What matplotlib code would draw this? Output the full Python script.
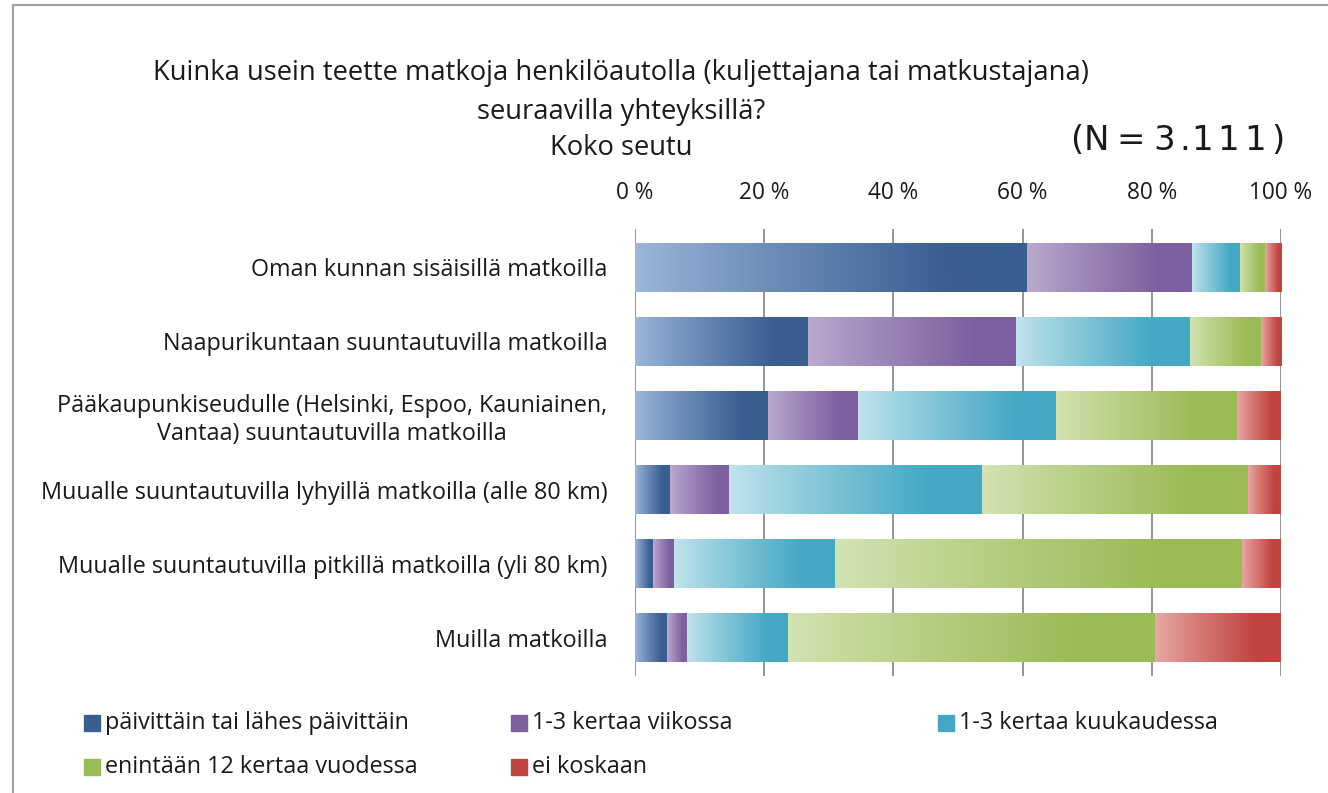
import numpy as np
import matplotlib
matplotlib.use("Agg")
import matplotlib.pyplot as plt
from matplotlib.colors import LinearSegmentedColormap
from matplotlib.patches import Rectangle
from matplotlib.lines import Line2D

plt.rcParams["font.family"] = ["Open Sans", "DejaVu Sans"]

kategoriat = [
    "Oman kunnan sisäisillä matkoilla",
    "Naapurikuntaan suuntautuvilla matkoilla",
    "Pääkaupunkiseudulle (Helsinki, Espoo, Kauniainen,\nVantaa) suuntautuvilla matkoilla",
    "Muualle suuntautuvilla lyhyillä matkoilla (alle 80 km)",
    "Muualle suuntautuvilla pitkillä matkoilla (yli 80 km)",
    "Muilla matkoilla",
]
sarjat = [
    "päivittäin tai lähes päivittäin",
    "1-3 kertaa viikossa",
    "1-3 kertaa kuukaudessa",
    "enintään 12 kertaa vuodessa",
    "ei koskaan",
]
paivittain = [60.7, 26.8, 20.6, 5.4, 2.8, 5.0]
viikossa = [25.5, 32.2, 13.9, 9.2, 3.2, 3.0]
kuukaudessa = [7.5, 26.9, 30.7, 39.1, 25.0, 15.7]
vuodessa = [3.8, 11.0, 28.0, 41.2, 63.0, 56.8]
ei_koskaan = [2.5, 3.1, 6.8, 5.1, 6.0, 19.5]
arvot = [paivittain, viikossa, kuukaudessa, vuodessa, ei_koskaan]
xtiks = [0, 20, 40, 60, 80, 100]

# (vaalea, tumma) liukuvari jokaiselle sarjalle
VARIT = [
    ("#9BB7DC", "#395E90"),
    ("#BBAACF", "#7D60A0"),
    ("#C2E4EC", "#44A8C4"),
    ("#D3E3B2", "#9ABB55"),
    ("#E9A9A7", "#C0443F"),
]

W, H = 1328, 793
fig = plt.figure(figsize=(W / 100, H / 100), dpi=100)
ax = fig.add_axes([635 / W, 1 - 676 / H, 646 / W, (676 - 229) / H])

y = np.arange(len(kategoriat))
korkeus = 0.66
vasen = np.zeros(len(kategoriat))
t = np.linspace(0, 1, 200)
profiili = np.clip(t / 0.8, 0, 1) ** 0.9
for arr, (vaalea, tumma) in zip(arvot, VARIT):
    bars = ax.barh(y, arr, left=vasen, height=korkeus, color=tumma, zorder=2)
    cmap = LinearSegmentedColormap.from_list("g", [vaalea, tumma])
    for b in bars:
        x0, y0 = b.get_x(), b.get_y()
        w, h = b.get_width(), b.get_height()
        im = ax.imshow(profiili[None, :], cmap=cmap, vmin=0, vmax=1,
                       extent=(x0, x0 + w, y0 + h, y0), aspect="auto",
                       interpolation="bilinear", zorder=3)
        im.set_clip_path(b)
    vasen += np.array(arr)

ax.set_xlim(0, 100)
ax.set_ylim(5.52, -0.52)
ax.set_xticks(xtiks)
ax.set_xticklabels([f"{v} %" for v in xtiks])
ax.xaxis.tick_top()
ax.set_yticks(y)
ax.set_yticklabels(kategoriat)
for lbl in ax.get_yticklabels():
    lbl.set_multialignment("center")
ax.tick_params(axis="both", length=0, labelsize=16.8, colors="#1a1a1a")
ax.tick_params(axis="x", labelsize=16.3, pad=17)
ax.tick_params(axis="y", pad=20)
ax.grid(axis="x", color="#8c8c8c", linewidth=1.3, zorder=1)
for s in ax.spines.values():
    s.set_visible(False)

# otsikko
otsikko = ["Kuinka usein teette matkoja henkilöautolla (kuljettajana tai matkustajana)",
           "seuraavilla yhteyksillä?", "Koko seutu"]
for rivi, ypx in zip(otsikko, [73, 112, 148]):
    fig.text(621 / W, 1 - ypx / H, rivi, ha="center", va="center",
             fontsize=19.7, color="#1a1a1a")

# (N=3.111) leveällä merkkivälillä
for merkki, xpx in zip("(N=3.111)", [1077, 1096, 1131, 1164, 1185, 1202, 1228, 1255, 1278]):
    fig.text(xpx / W, 1 - 140 / H, merkki, ha="center", va="center",
             fontsize=24.5, family="DejaVu Sans", color="#1a1a1a")

# selite
paikat = [(84, 723), (511, 723), (938, 723), (84, 767), (511, 767)]
for (px, py), nimi, (vaalea, tumma) in zip(paikat, sarjat, VARIT):
    fig.patches.append(Rectangle((px / W, 1 - (py + 8) / H), 16 / W, 16 / H,
                                 transform=fig.transFigure, color=tumma, figure=fig))
    fig.text((px + 21) / W, 1 - py / H, nimi, ha="left", va="center",
             fontsize=16.8, color="#1a1a1a")

# kehys
fig.add_artist(Line2D([13 / W, 13 / W], [0, 1 - 5 / H], transform=fig.transFigure,
                      color="#a0a0a0", linewidth=1.5))
fig.add_artist(Line2D([13 / W, 1], [1 - 5 / H, 1 - 5 / H], transform=fig.transFigure,
                      color="#a0a0a0", linewidth=1.5))

fig.savefig("out.png", dpi=100, facecolor="white")
